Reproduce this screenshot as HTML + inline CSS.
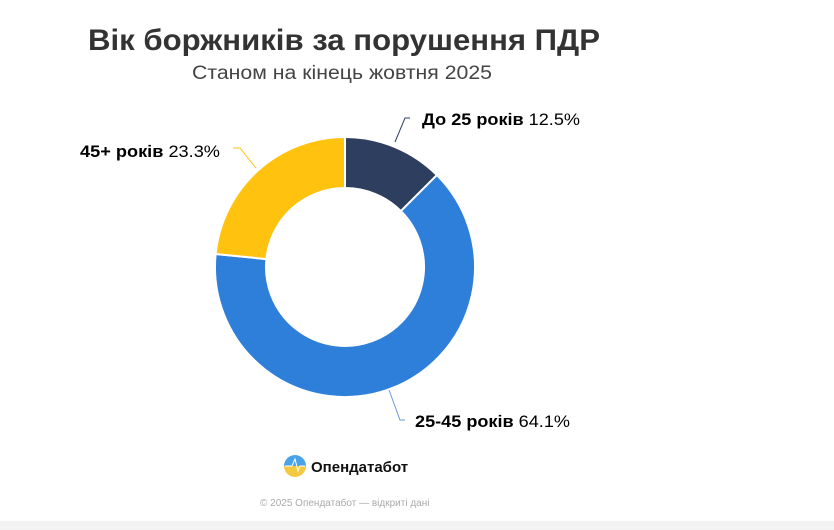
<!DOCTYPE html>
<html><head><meta charset="utf-8"><style>
html,body{margin:0;padding:0;background:#fff;width:834px;height:530px;overflow:hidden}
svg{display:block;font-family:"Liberation Sans","DejaVu Sans",sans-serif}
</style></head><body>
<svg width="834" height="530" viewBox="0 0 834 530">
<rect x="0" y="521" width="834" height="9" fill="#f3f3f3"/>
<text x="344" y="50" text-anchor="middle" font-size="30" font-weight="bold" fill="#333" textLength="512" lengthAdjust="spacingAndGlyphs">Вік боржників за порушення ПДР</text>
<text x="342" y="79" text-anchor="middle" font-size="19" fill="#444" textLength="300" lengthAdjust="spacingAndGlyphs">Станом на кінець жовтня 2025</text>
<g stroke="#fff" stroke-width="2" stroke-linejoin="round">
<path d="M345,137 A130,130 0 0 1 436.9,175.1 L400.9,211.1 A79,79 0 0 0 345,188 Z" fill="#2d3e5f"/>
<path d="M436.9,175.1 A130,130 0 1 1 215.65,253.95 L266.4,259.07 A79,79 0 1 0 400.9,211.1 Z" fill="#2e7fd9"/>
<path d="M215.65,253.95 A130,130 0 0 1 345,137 L345,188 A79,79 0 0 0 266.4,259.07 Z" fill="#ffc20e"/>
</g>
<polyline points="395,142 405,118 410,118" fill="none" stroke="#2d3e5f" stroke-width="1"/>
<polyline points="256,168 240,148 233,148" fill="none" stroke="#ffc20e" stroke-width="1"/>
<polyline points="389,390 400,420 405,420" fill="none" stroke="#6a9ad8" stroke-width="1"/>
<text x="422" y="125" font-size="17" fill="#000" textLength="158" lengthAdjust="spacingAndGlyphs"><tspan font-weight="bold">До 25 років</tspan> 12.5%</text>
<text x="80" y="157" font-size="17" fill="#000" textLength="140" lengthAdjust="spacingAndGlyphs"><tspan font-weight="bold">45+ років</tspan> 23.3%</text>
<text x="415" y="427" font-size="17" fill="#000" textLength="155" lengthAdjust="spacingAndGlyphs"><tspan font-weight="bold">25-45 років</tspan> 64.1%</text>
<defs><linearGradient id="lg" x1="0" y1="0" x2="0" y2="1"><stop offset="0.5" stop-color="#4aa3e8"/><stop offset="0.5" stop-color="#f5c842"/></linearGradient></defs>
<circle cx="295" cy="466" r="11" fill="url(#lg)"/>
<polyline points="285,466 292,466 295,459 298,471 300,466 305,466" fill="none" stroke="#fff" stroke-width="1"/>
<text x="311" y="472" font-size="15" font-weight="bold" fill="#111">Опендатабот</text>
<text x="260" y="506" font-size="10" fill="#aaa">© 2025 Опендатабот — відкриті дані</text>
</svg>
</body></html>
